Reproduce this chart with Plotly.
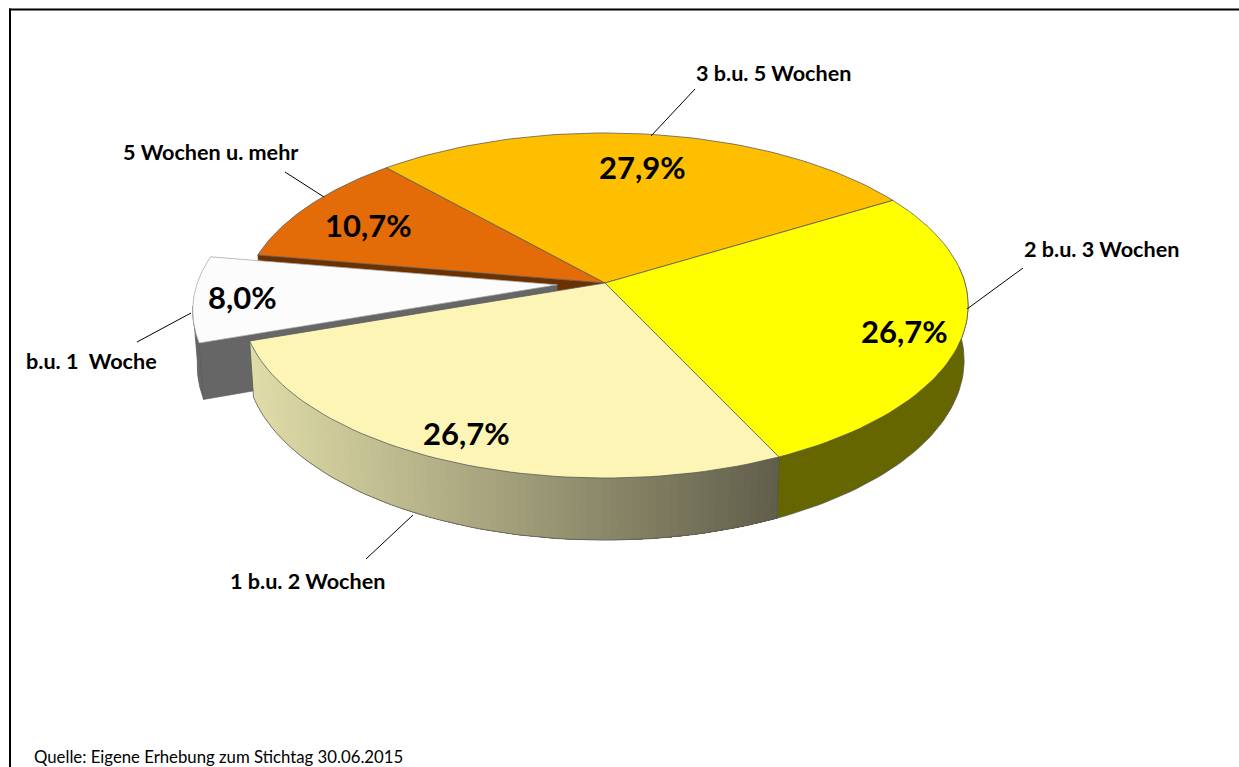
import math
import plotly.graph_objects as go

# ---- data ----
categories = ["b.u. 1  Woche", "1 b.u. 2 Wochen", "2 b.u. 3 Wochen", "3 b.u. 5 Wochen", "5 Wochen u. mehr"]
values = [8.0, 26.7, 26.7, 27.9, 10.7]
top_colors = ["#FCFCFC", "#FCF5B5", "#FFFF00", "#FDBF00", "#E36C09"]

# ---- geometry / style ----
W, H = 1239, 767
CX, CY, A, B, K, DEPTH, SHRINK = 605, 283, 360, 169.6, 0.1304, 54, 0.011
START = 170.3
EXPLODE = {0: 0.133}
FONT = "Lato, Carlito, Calibri, sans-serif"
PCT_POS = [(242, 297), (466, 433), (904, 331), (642, 167), (368, 225)]
CAT_POS = [(91, 360.5), (307, 580.5), (1101, 248.5), (773, 72.5), (210, 151.5)]
LEADERS = [((137, 342), (191, 313)), ((366, 559), (413, 515)), ((1023, 268), (967, 309)),
           ((695, 89), (651, 136)), ((285, 172), (324, 197))]


def proj(X, Y, z=0.0):
    w = 1 + K * Y
    return CX + A * X / w * (1 - SHRINK * z), CY - B * Y / w + DEPTH * z / w


def arc(a0, a1, off, z=0.0, n=60):
    out = []
    for i in range(n + 1):
        t = math.radians(a0 + (a1 - a0) * i / n)
        out.append(proj(math.cos(t) + off[0], math.sin(t) + off[1], z))
    return out


def poly(fig, pts, fill, line=None, width=0.75):
    xs = [p[0] for p in pts] + [pts[0][0]]
    ys = [p[1] for p in pts] + [pts[0][1]]
    fig.add_trace(go.Scatter(x=xs, y=ys, mode="lines", fill="toself", fillcolor=fill,
                             line=dict(color=line or fill, width=width),
                             hoverinfo="skip", showlegend=False))


# slice angles from values
angles = []
a = START
for v in values:
    angles.append((a, a + v * 3.6))
    a += v * 3.6

offs = []
for i, (a0, a1) in enumerate(angles):
    r = EXPLODE.get(i, 0)
    m = math.radians((a0 + a1) / 2)
    offs.append((r * math.cos(m), r * math.sin(m)))

fig = go.Figure()
EDGE = "#555555"


def radial_wall(i, ang, color):
    off = offs[i]
    t = math.radians(ang)
    rim = (math.cos(t) + off[0], math.sin(t) + off[1])
    poly(fig, [proj(*off), proj(*rim), proj(*rim, 1), proj(*off, 1)], color, EDGE, 0.5)


def outer_wall(i, a0, a1, color):
    off = offs[i]
    poly(fig, arc(a0, a1, off) + arc(a1, a0, off, 1), color, EDGE, 0.75)


def top(i, edge=EDGE):
    off = offs[i]
    a0, a1 = angles[i]
    poly(fig, [proj(*off)] + arc(a0, a1, off), top_colors[i], edge, 0.75)


# back pieces: brown cut face of "5 Wochen u. mehr", then the exploded slice
radial_wall(4, angles[4][1] % 360, "#6B3100")
outer_wall(0, angles[0][1] - 12, angles[0][1], "#666666")
radial_wall(0, angles[0][1], "#666666")
top(0, "#A6A6A6")

# gradient wall of "1 b.u. 2 Wochen": painted left to right, each step covering the rest
a0, a1 = angles[1]
STEPS = 90
C0, C1 = (224, 220, 168), (96, 94, 74)
for s in range(STEPS):
    b0 = a0 + (a1 - a0) * s / STEPS
    pts = arc(b0, a1, offs[1], 0, 90 - s) + arc(a1, b0, offs[1], 1, 90 - s)
    f = min(1, max(0, (pts[0][0] - 250) / (776 - 250)))
    col = "rgb({},{},{})".format(*[round(C0[j] + (C1[j] - C0[j]) * f) for j in range(3)])
    fig.add_trace(go.Scatter(x=[p[0] for p in pts] + [pts[0][0]], y=[p[1] for p in pts] + [pts[0][1]],
                             mode="lines", fill="toself", fillcolor=col, line=dict(width=0),
                             hoverinfo="skip", showlegend=False))
# outline of that wall
pts = arc(a0, a1, offs[1], 1)
pts = [arc(a0, a0, offs[1], 0, 1)[0]] + pts + [arc(a1, a1, offs[1], 0, 1)[0]]
fig.add_trace(go.Scatter(x=[p[0] for p in pts], y=[p[1] for p in pts], mode="lines",
                         line=dict(color=EDGE, width=0.75), hoverinfo="skip", showlegend=False))

# yellow outer wall
outer_wall(2, angles[2][0], angles[2][0] + 70, "#666600")

# top faces
for i in (4, 3, 2, 1):
    top(i)

# leader lines
for (p, q) in LEADERS:
    fig.add_trace(go.Scatter(x=[p[0], q[0]], y=[p[1], q[1]], mode="lines",
                             line=dict(color="#000000", width=1), hoverinfo="skip", showlegend=False))

# labels
for i, v in enumerate(values):
    txt = f"{v:.1f}%".replace(".", ",")
    fig.add_annotation(x=PCT_POS[i][0], y=PCT_POS[i][1], text=f"<b>{txt}</b>", showarrow=False,
                       font=dict(family=FONT, size=31, color="#000000"))
    fig.add_annotation(x=CAT_POS[i][0], y=CAT_POS[i][1], text=f"<b>{categories[i]}</b>", showarrow=False,
                       font=dict(family=FONT, size=21.6, color="#000000"))
fig.add_annotation(x=31.5, y=756.5, xanchor="left", text="Quelle: Eigene Erhebung zum Stichtag 30.06.2015",
                   showarrow=False, font=dict(family=FONT, size=16.75, color="#000000"))

# frame of the picture: only its left and top sides fall inside the image
fig.add_shape(type="line", x0=10, y0=8.5, x1=10, y1=H, line=dict(color="#000000", width=2), layer="above")
fig.add_shape(type="line", x0=9, y0=9.5, x1=W, y1=9.5, line=dict(color="#000000", width=2), layer="above")

fig.update_layout(width=W, height=H, autosize=False, margin=dict(l=0, r=0, t=0, b=0),
                  paper_bgcolor="#FFFFFF", plot_bgcolor="#FFFFFF", showlegend=False,
                  xaxis=dict(range=[0, W], visible=False, fixedrange=True),
                  yaxis=dict(range=[H, 0], visible=False, fixedrange=True))
fig.write_html("out.html", config={"displayModeBar": False},
               post_script="document.body.style.margin='0';document.documentElement.style.overflow='hidden';")
